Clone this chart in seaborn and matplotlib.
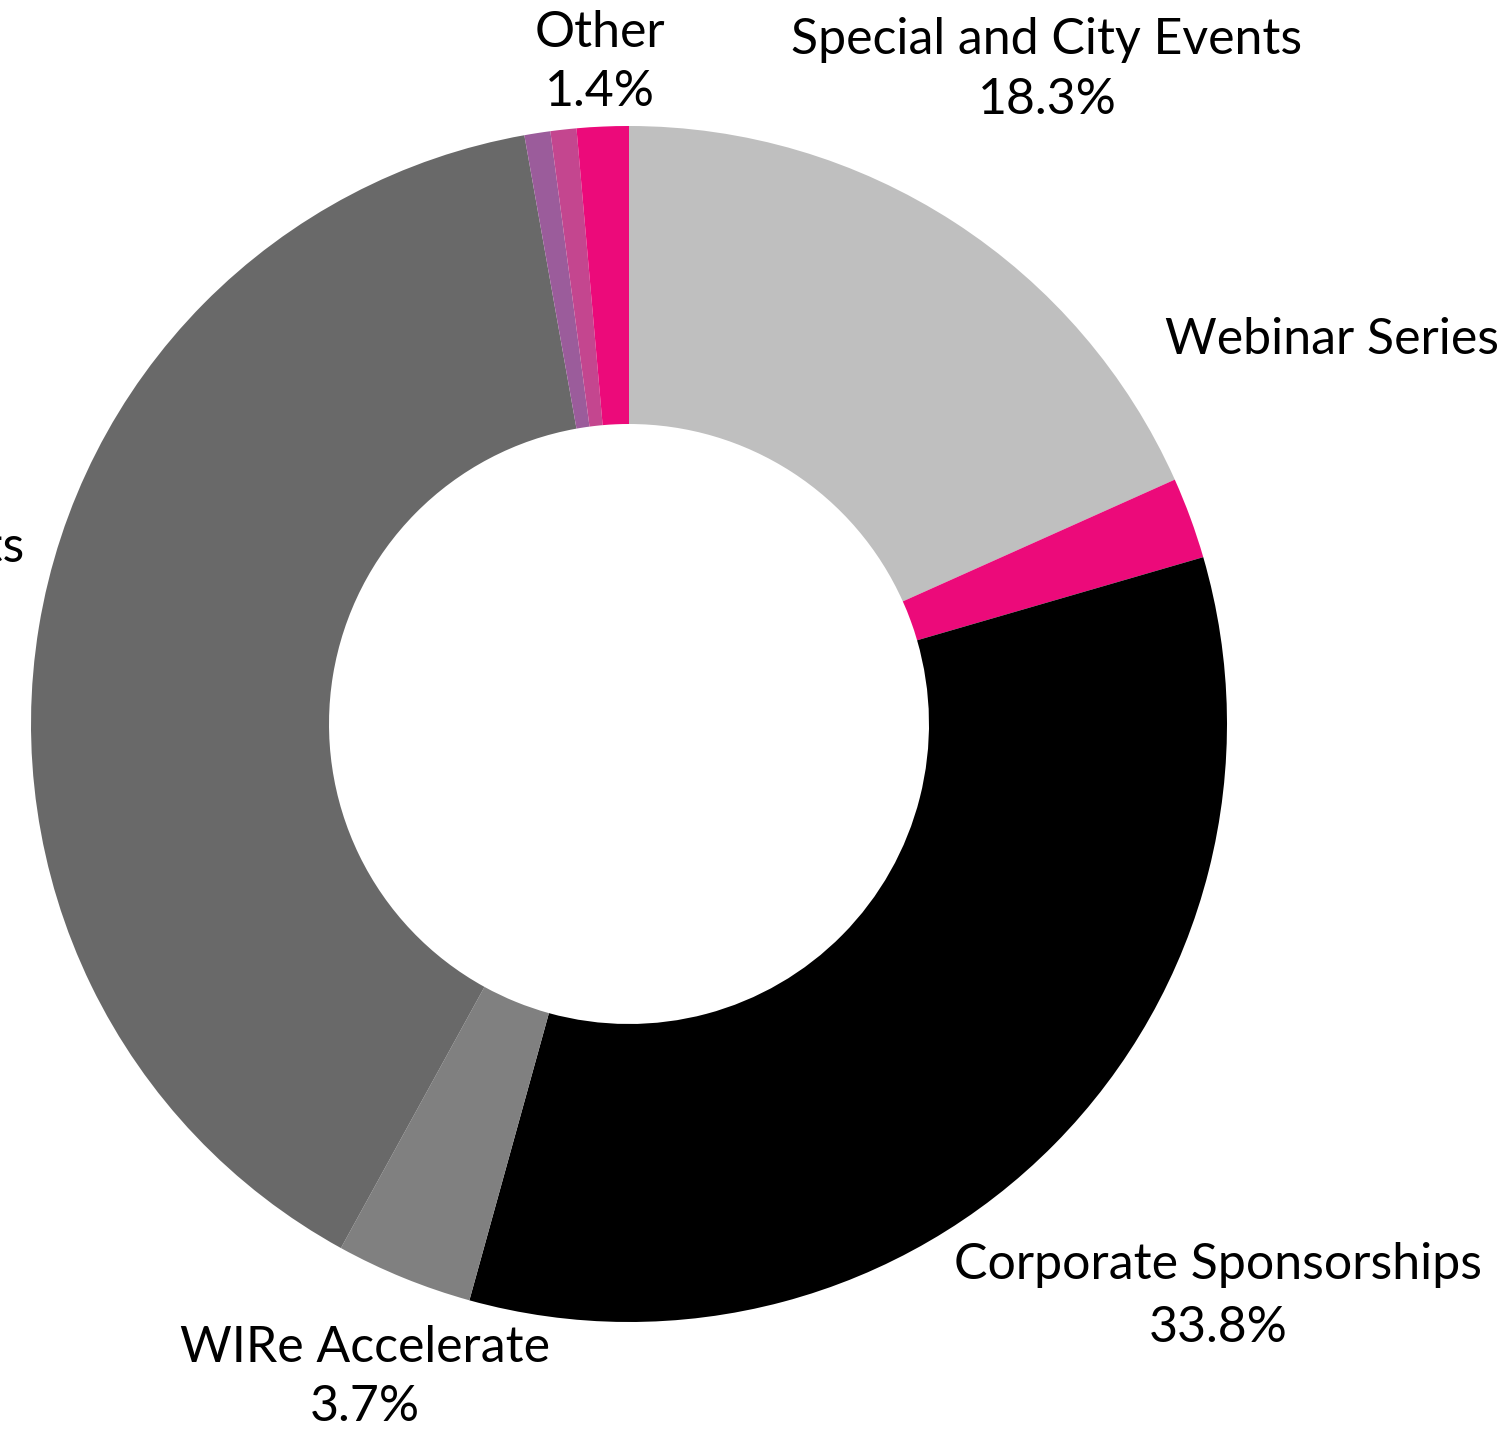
import matplotlib
matplotlib.use("Agg")
import matplotlib.pyplot as plt
import seaborn as sns

categories = ["Special and City Events", "Webinar Series", "Corporate Sponsorships",
              "WIRe Accelerate", "Chapter Events", "Misc A", "Misc B", "Other"]
values = [18.3, 2.2, 33.8, 3.7, 39.2, 0.7, 0.7, 1.4]
colors = ["#BFBFBF", "#EC0A7A", "#000000", "#808080", "#696969", "#9B5C9B", "#C4468F", "#EC0A7A"]

sns.set_theme(style="white")
plt.rcParams['font.family'] = ['Lato', 'DejaVu Sans']

W, H = 1503, 1429
fig = plt.figure(figsize=(W / 100, H / 100), dpi=100)
ax = fig.add_axes([0, 0, 1, 1])

cx, cy = 629, H - 724
R = 598
ax.pie(values, colors=sns.color_palette(colors), startangle=90, counterclock=False,
       center=(cx, cy), radius=R, frame=True,
       wedgeprops=dict(width=298, linewidth=0))
ax.set_xlim(0, W)
ax.set_ylim(0, H)
ax.set_aspect("equal")
ax.axis("off")

fs = 36
def lab(x, y, s, ha="center"):
    ax.text(x, H - y, s, ha=ha, va="center", fontsize=fs, color="black", fontweight="normal")

lab(600, 33, "Other")
lab(600, 92, f"{values[7]}%")
lab(1047, 40, "Special and City Events")
lab(1047, 100, f"{values[0]}%")
lab(1165, 340, "Webinar Series", ha="left")
lab(1218, 1265, "Corporate Sponsorships")
lab(1218, 1328, f"{values[2]}%")
lab(365, 1348, "WIRe Accelerate")
lab(365, 1407, f"{values[3]}%")
lab(24, 548, "Chapter Events", ha="right")

fig.savefig("out.png", dpi=100)
